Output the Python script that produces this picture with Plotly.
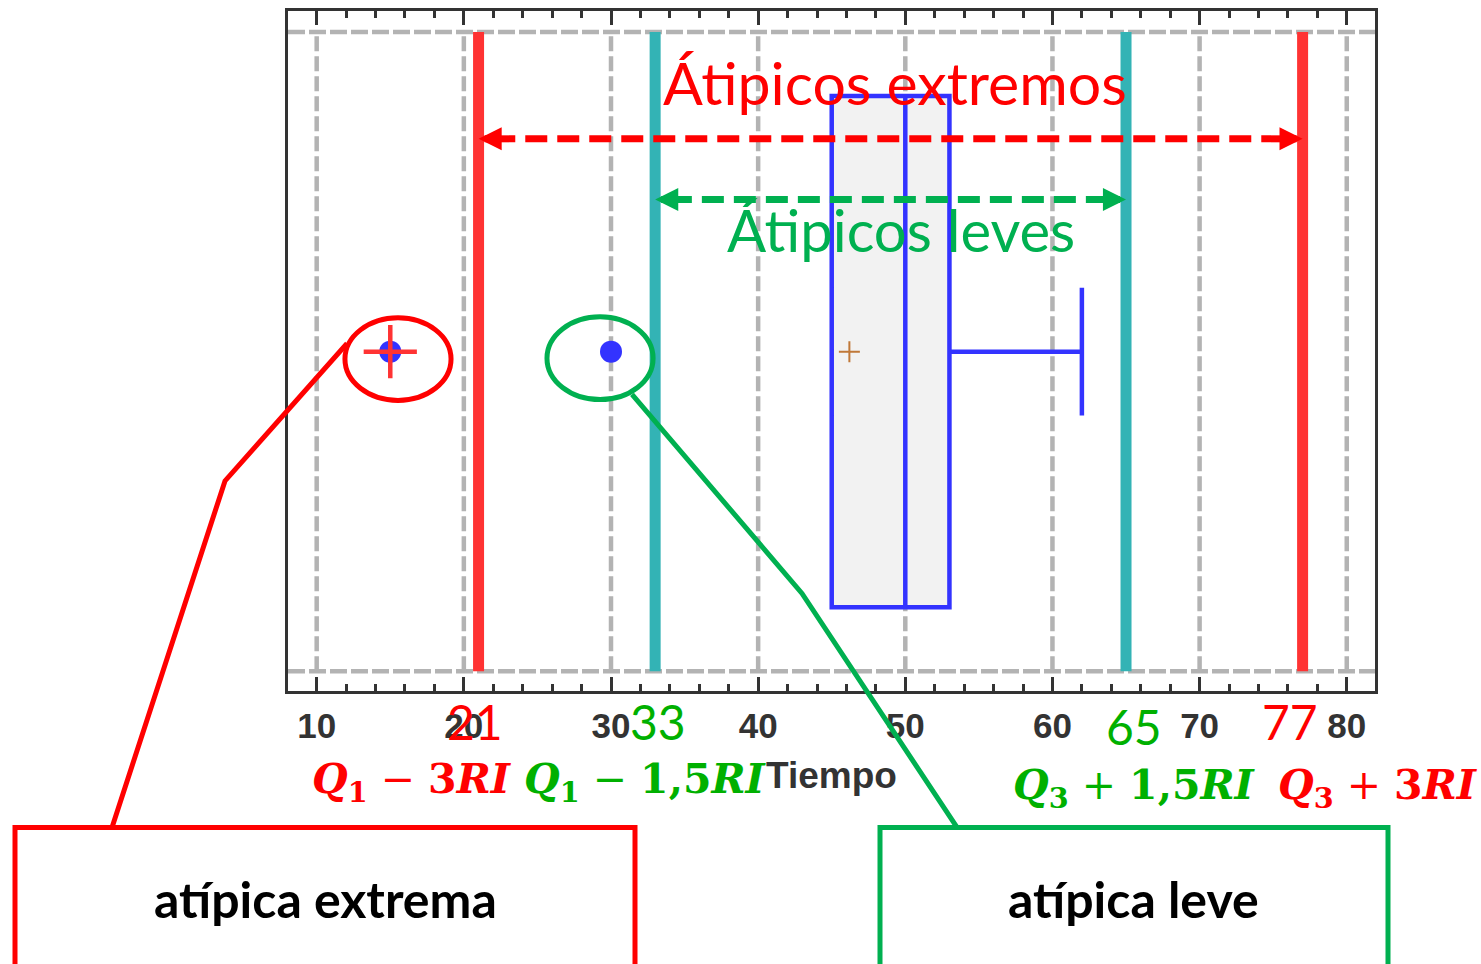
import plotly.graph_objects as go

# ---------------- data ----------------
q1 = 45
median = 50
q3 = 53
mean_value = 46.2
whisker_high = 62
mild_outliers = [30]
extreme_outliers = [15]

fence_values = [21, 33, 65, 77]
fence_kinds = ["extreme", "mild", "mild", "extreme"]
fence_formulas = [
    "<b><i>Q</i><sub>1</sub></b> − <b>3<i>RI</i></b>",
    "<b><i>Q</i><sub>1</sub></b> − <b>1,5<i>RI</i></b>",
    "<b><i>Q</i><sub>3</sub></b> + <b>1,5<i>RI</i></b>",
    "<b><i>Q</i><sub>3</sub></b> + <b>3<i>RI</i></b>",
]
tick_values = [10, 20, 30, 40, 50, 60, 70, 80]

# ---------------- styling ----------------
W, H = 1481, 964
ML, MR, MT, MB = 288, 106, 8, 273
PW, PH = W - ML - MR, H - MT - MB
X_RANGE = [8.05, 81.92]
Y_RANGE = [-0.031, 1.033]

RED = "#ff0000"
RED_LINE = "#ff3333"
TEAL = "#33b3b5"
GREEN = "#00b050"
GREEN_TXT = "#00b000"
BLUE = "#3333ff"
GRID = "#b3b3b3"
AXIS = "#333333"

kind_color = {"extreme": RED_LINE, "mild": TEAL}
label_color = {"extreme": RED, "mild": GREEN_TXT}


def paper(px, py):
    """Convert a page pixel position into paper coordinates."""
    return (px - ML) / PW, (MT + PH - py) / PH


fig = go.Figure()

# fence lines
for v, k in zip(fence_values, fence_kinds):
    fig.add_trace(go.Scatter(
        x=[v, v], y=[0, 1], mode="lines",
        line=dict(color=kind_color[k], width=11),
        hoverinfo="skip", showlegend=False))

# box plot from its summary statistics
fig.add_trace(go.Box(
    orientation="h", y=[0.5],
    q1=[q1], median=[median], q3=[q3],
    lowerfence=[q1], upperfence=[whisker_high],
    width=0.8, whiskerwidth=0.25,
    fillcolor="#f2f2f2", line=dict(color=BLUE, width=4.5),
    boxpoints=False, hoverinfo="skip", showlegend=False))

# mean
fig.add_trace(go.Scatter(
    x=[mean_value], y=[0.5], mode="markers",
    marker=dict(symbol="cross-thin", size=15,
                line=dict(color="#c07838", width=2)),
    hoverinfo="skip", showlegend=False))

# outliers
fig.add_trace(go.Scatter(
    x=mild_outliers + extreme_outliers,
    y=[0.5] * (len(mild_outliers) + len(extreme_outliers)),
    mode="markers", marker=dict(symbol="circle", size=22, color=BLUE),
    hoverinfo="skip", showlegend=False))
fig.add_trace(go.Scatter(
    x=extreme_outliers, y=[0.5] * len(extreme_outliers), mode="markers",
    marker=dict(symbol="cross-thin", size=38,
                line=dict(color=RED_LINE, width=4.5)),
    hoverinfo="skip", showlegend=False))

# dashed double arrows between the fences
arrow_rows = [
    (fence_values[0], fence_values[3], 0.833, RED),
    (fence_values[1], fence_values[2], 0.738, GREEN),
]
for lo, hi, yv, col in arrow_rows:
    fig.add_trace(go.Scatter(
        x=[lo + 1.0, hi - 1.0], y=[yv, yv], mode="lines",
        line=dict(color=col, width=7, dash="22px,10px"),
        hoverinfo="skip", showlegend=False))
    for tip, tail in ((lo, lo + 1.6), (hi, hi - 1.6)):
        fig.add_annotation(
            x=tip, y=yv, ax=tail, ay=yv, xref="x", yref="y",
            axref="x", ayref="y", text="", showarrow=True,
            arrowhead=2, arrowsize=0.66, arrowwidth=7, arrowcolor=col)

shapes = []
# grid: vertical at each major tick, horizontal at the two edges
for v in tick_values:
    shapes.append(dict(type="line", xref="x", yref="y", x0=v, x1=v, y0=0, y1=1,
                       line=dict(color=GRID, width=4.5, dash="15px,5px"), layer="below"))
for yv in (0, 1):
    shapes.append(dict(type="line", xref="paper", yref="y", x0=0, x1=1, y0=yv, y1=yv,
                       line=dict(color=GRID, width=4.5, dash="17px,4px"), layer="below"))

# circles around the outliers
shapes.append(dict(type="circle", xref="x", yref="y",
                   x0=11.92, x1=19.13, y0=0.4237, y1=0.553,
                   line=dict(color=RED, width=5)))
shapes.append(dict(type="circle", xref="x", yref="y",
                   x0=25.65, x1=32.86, y0=0.425, y1=0.5545,
                   line=dict(color=GREEN, width=5)))


def path_from(points):
    pts = [paper(px, py) for px, py in points]
    return "M" + " L".join(f"{x:.5f},{y:.5f}" for x, y in pts)


# callout leader lines
shapes.append(dict(type="path", xref="paper", yref="paper",
                   path=path_from([(347, 342), (225, 480), (112, 828)]),
                   line=dict(color=RED, width=5)))
shapes.append(dict(type="path", xref="paper", yref="paper",
                   path=path_from([(632, 393), (802, 593), (957, 828)]),
                   line=dict(color=GREEN, width=5)))

# callout boxes
for (x0, x1), col in (((15, 635), RED), ((880, 1388), GREEN)):
    (px0, py0), (px1, py1) = paper(x0, 828), paper(x1, 990)
    shapes.append(dict(type="rect", xref="paper", yref="paper",
                       x0=px0, x1=px1, y0=py1, y1=py0,
                       line=dict(color=col, width=5), fillcolor="rgba(0,0,0,0)"))

fig.update_layout(shapes=shapes)

# headline texts
for text, (cx, cy), col, size in (("Átipicos extremos", (895, 80), RED, 59),
                                  ("Átipicos leves", (901, 227), GREEN, 58)):
    px, py = paper(cx, cy)
    fig.add_annotation(x=px, y=py, xref="paper", yref="paper", text=text,
                       showarrow=False, xanchor="center", yanchor="middle",
                       font=dict(family="Lato", size=size, color=col))

# fence value labels and formulas
value_shift = [-4, 3, 8, -13]
value_y = [722, 722, 727, 722]
formula_center = [412, 645, 1134, 1378]
formula_y = [782, 782, 788, 788]
for i, (v, k) in enumerate(zip(fence_values, fence_kinds)):
    fig.add_annotation(x=v, y=paper(0, value_y[i])[1], xref="x", yref="paper",
                       text=str(v), showarrow=False, xshift=value_shift[i],
                       xanchor="center", yanchor="middle",
                       font=dict(family="Lato", size=48, color=label_color[k]))
    px, py = paper(formula_center[i], formula_y[i])
    fig.add_annotation(x=px, y=py, xref="paper", yref="paper",
                       text=fence_formulas[i], showarrow=False,
                       xanchor="center", yanchor="middle",
                       font=dict(family="DejaVu Serif", size=41, color=label_color[k]))

# callout captions
for text, (cx, cy) in (("atípica extrema", (325, 900)), ("atípica leve", (1133, 900))):
    px, py = paper(cx, cy)
    fig.add_annotation(x=px, y=py, xref="paper", yref="paper", text=f"<b>{text}</b>",
                       showarrow=False, xanchor="center", yanchor="middle",
                       font=dict(family="Lato", size=50, color="#000000"))

fig.update_xaxes(
    range=X_RANGE, tickvals=tick_values, showgrid=False, zeroline=False,
    showline=True, linecolor=AXIS, linewidth=3, mirror="ticks",
    ticks="inside", ticklen=14, tickwidth=3, tickcolor=AXIS,
    minor=dict(dtick=2, ticks="inside", ticklen=7, tickwidth=3, tickcolor=AXIS),
    tickfont=dict(family="Liberation Sans", size=35, color=AXIS, weight="bold"),
    ticklabelstandoff=2,
    title=dict(text="Tiempo", standoff=19,
               font=dict(family="Liberation Sans", size=37, color=AXIS, weight="bold")),
)
fig.update_yaxes(
    range=Y_RANGE, showticklabels=False, ticks="", showgrid=False, zeroline=False,
    showline=True, linecolor=AXIS, linewidth=3, mirror=True,
)
fig.update_layout(
    width=W, height=H, autosize=False,
    margin=dict(l=ML, r=MR, t=MT, b=MB),
    plot_bgcolor="white", paper_bgcolor="white",
    showlegend=False,
)

fig.write_html("out.html")
